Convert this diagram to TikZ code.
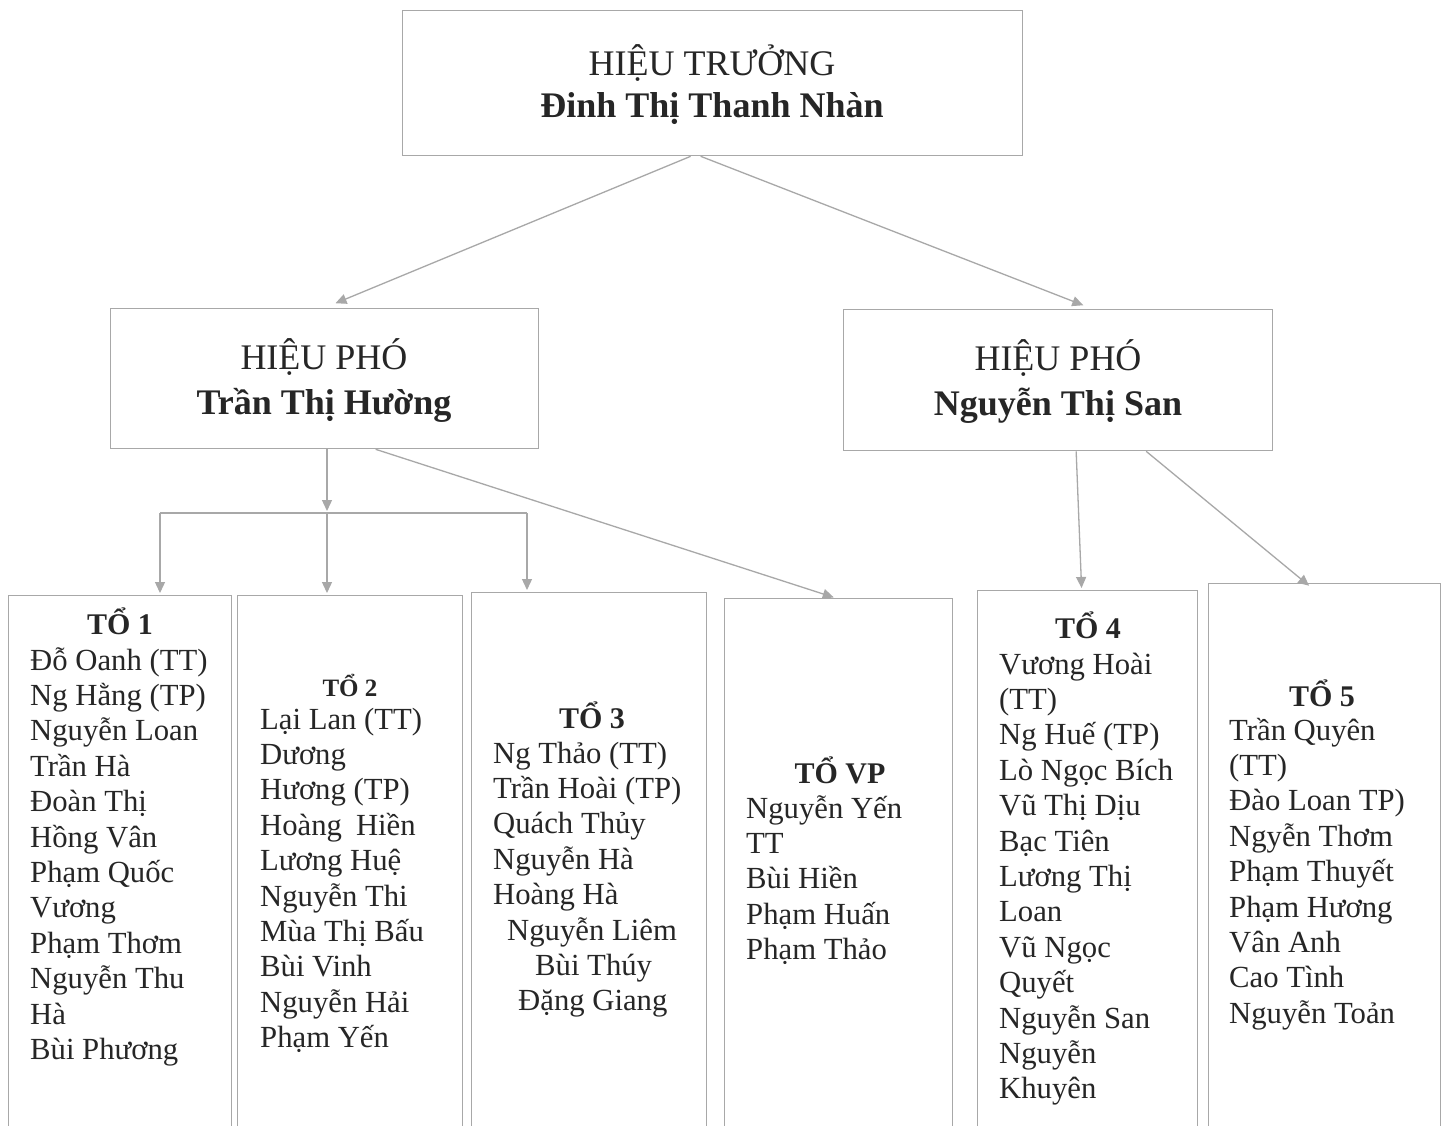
\documentclass[tikz,border=0pt]{standalone}
\usepackage{fontspec}
\setmainfont{Liberation Serif}
\usetikzlibrary{arrows.meta,calc}
\definecolor{ink}{RGB}{38,38,38}
\definecolor{edge}{RGB}{168,168,168}
\begin{document}
\begin{tikzpicture}[x=1pt,y=-1pt,
  box/.style={draw=edge, line width=1.3pt, inner sep=0pt, anchor=north west, fill=white},
  ttl/.style={anchor=base, inner sep=0pt, text=ink, font=\fontsize{36}{42}\selectfont},
  ttlb/.style={ttl, font=\fontsize{36}{42}\selectfont\bfseries},
  grp/.style={anchor=base, inner sep=0pt, text=ink, font=\fontsize{30}{36}\selectfont\bfseries},
  nm/.style={anchor=base west, inner sep=0pt, text=ink, font=\fontsize{30.7}{36}\selectfont},
  conn/.style={draw=edge, line width=1.3pt},
  arr/.style={conn, -{Triangle[length=11pt,width=10pt]}, shorten >=2pt}]
\useasboundingbox (0,0) rectangle (1445,1125);
\fill[white] (0,0) rectangle (1445,1125);
\clip (0,0) rectangle (1445,1125);

% top level
\node[box, minimum width=620pt, minimum height=145pt] (top) at (402,10) {};
\node[ttl] (topa) at (712,75) {HIỆU TRƯỞNG};
\node[ttlb] (topb) at (712,117) {Đinh Thị Thanh Nhàn};

% vice principals
\node[box, minimum width=428pt, minimum height=140pt] (hp1) at (110,308) {};
\node[ttl] (hp1a) at (324,369) {HIỆU PHÓ};
\node[ttlb] (hp1b) at (324,414) {Trần Thị Hường};

\node[box, minimum width=429pt, minimum height=141pt] (hp2) at (843,309) {};
\node[ttl] (hp2a) at (1058,370) {HIỆU PHÓ};
\node[ttlb] (hp2b) at (1058,415) {Nguyễn Thị San};

% group boxes
\node[box, minimum width=223pt, minimum height=560pt] (g1) at (8,595) {};
\node[box, minimum width=225pt, minimum height=560pt] (g2) at (237,595) {};
\node[box, minimum width=235pt, minimum height=560pt] (g3) at (471,592) {};
\node[box, minimum width=228pt, minimum height=560pt] (gvp) at (724,598) {};
\node[box, minimum width=220pt, minimum height=560pt] (g4) at (977,590) {};
\node[box, minimum width=232pt, minimum height=560pt] (g5) at (1208,583) {};

% TO 1
\node[grp] (h1) at (120,634) {TỔ 1};
\foreach \t [count=\i from 0] in {Đỗ Oanh (TT), Ng Hằng (TP), Nguyễn Loan, Trần Hà, Đoàn Thị, Hồng Vân, Phạm Quốc, Vương, Phạm Thơm, Nguyễn Thu, Hà, Bùi Phương}
  \node[nm] (a\i) at (30,670+35.4*\i) {\t};

% TO 2
\node[grp, font=\fontsize{25}{30}\selectfont\bfseries] (h2) at (350,696) {TỔ 2};
\foreach \t [count=\i from 0] in {Lại Lan (TT), Dương, Hương (TP), Hoàng\hspace{14pt}Hiền, Lương Huệ, Nguyễn Thi, Mùa Thị Bấu, Bùi Vinh, Nguyễn Hải, Phạm Yến}
  \node[nm] (b\i) at (260,729+35.4*\i) {\t};

% TO 3
\node[grp] (h3) at (592,728) {TỔ 3};
\foreach \t/\x [count=\i from 0] in {Ng Thảo (TT)/493, Trần Hoài (TP)/493, Quách Thủy/493, Nguyễn Hà/493, Hoàng Hà/493, Nguyễn Liêm/507, Bùi Thúy/535, Đặng Giang/518}
  \node[nm] (c\i) at (\x,763+35.4*\i) {\t};

% TO VP
\node[grp] (hvp) at (840,783) {TỔ VP};
\foreach \t [count=\i from 0] in {Nguyễn Yến, TT, Bùi Hiền, Phạm Huấn, Phạm Thảo}
  \node[nm] (v\i) at (746,818+35.4*\i) {\t};

% TO 4
\node[grp] (h4) at (1088,638) {TỔ 4};
\foreach \t [count=\i from 0] in {Vương Hoài, (TT), Ng Huế (TP), Lò Ngọc Bích, Vũ Thị Dịu, Bạc Tiên, Lương Thị, Loan, Vũ Ngọc, Quyết, Nguyễn San, Nguyễn, Khuyên}
  \node[nm] (d\i) at (999,674+35.4*\i) {\t};

% TO 5
\node[grp] (h5) at (1322,706) {TỔ 5};
\foreach \t [count=\i from 0] in {Trần Quyên, (TT), Đào Loan TP), Ngyễn Thơm, Phạm Thuyết, Phạm Hương, Vân Anh, Cao Tình, Nguyễn Toản}
  \node[nm] (e\i) at (1229,740+35.4*\i) {\t};

% connectors
\draw[arr] ([xshift=-22pt]top.south) -- ([xshift=9pt,yshift=4pt]hp1.north);
\draw[arr] ([xshift=-12pt]top.south) -- ([xshift=27pt,yshift=3pt]hp2.north);

\coordinate (busL) at (160,513);
\coordinate (busM) at (327,513);
\coordinate (busR) at (527,513);
\draw[conn] (busL) -- (busR);
\draw[arr] (hp1.south -| busM) -- (busM);
\draw[arr] (busL) -- (busL |- g1.north);
\draw[arr] (busM) -- (busM |- g2.north);
\draw[arr] (busR) -- (busR |- g3.north);
\draw[arr] ([xshift=51pt]hp1.south) -- ([xshift=-3pt]gvp.north);

\draw[arr] ([xshift=18pt]hp2.south) -- ([xshift=-6pt]g4.north);
\draw[arr] ([xshift=88pt]hp2.south) -- ([xshift=-14pt,yshift=-4pt]g5.north);
\end{tikzpicture}
\end{document}
